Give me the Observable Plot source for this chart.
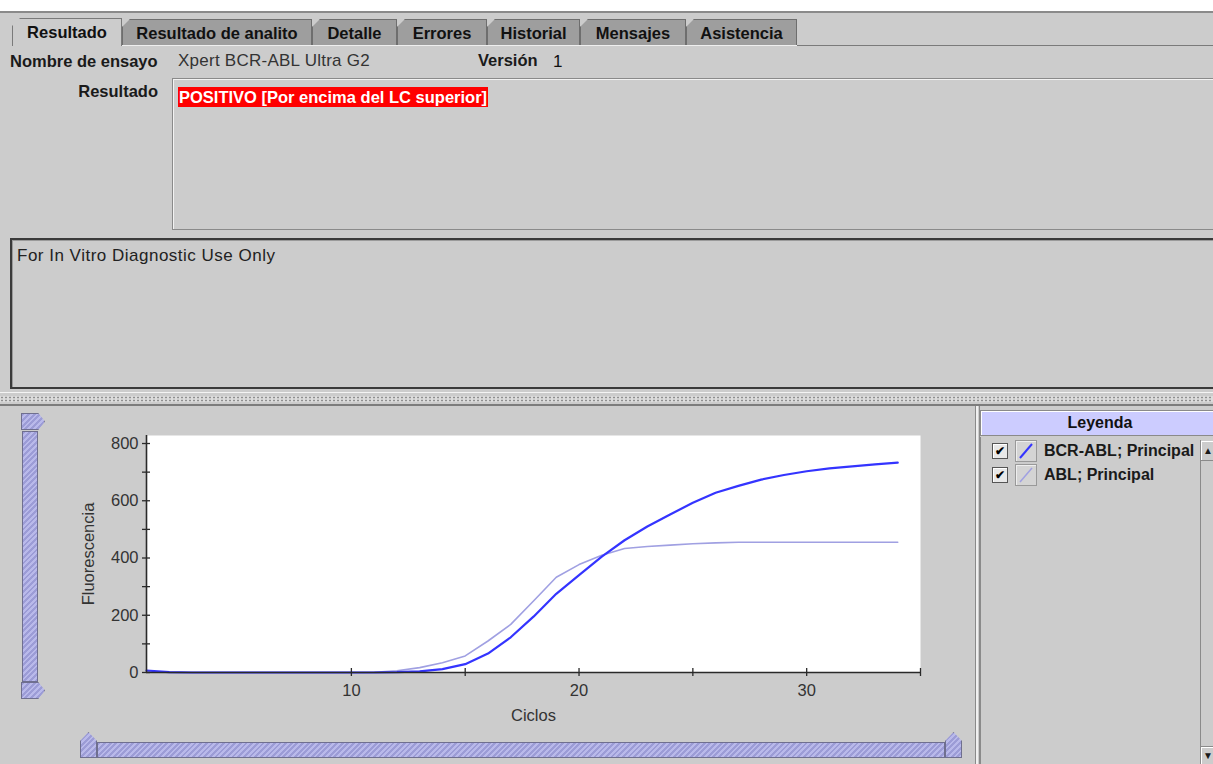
<!DOCTYPE html>
<html>
<head>
<meta charset="utf-8">
<script src="https://cdn.jsdelivr.net/npm/d3@7"></script>
<script src="https://cdn.jsdelivr.net/npm/@observablehq/plot@0.6"></script>
<style>
  html, body { margin: 0; padding: 0; }
  body { width: 1213px; height: 764px; overflow: hidden; position: relative; background: #cccccc;
         font-family: "Liberation Sans", Arial, sans-serif; color: #1a1a1a; }
  .abs { position: absolute; }
  .tab { position: absolute; top: 19px; height: 26px; box-sizing: border-box; background: #9e9e9e;
         border: 1px solid #6e6e6e; border-bottom: none; font-weight: bold; font-size: 16.5px; line-height: 26px;
         text-align: center; color: #111; clip-path: polygon(8px 0, 100% 0, 100% 100%, 0 100%, 0 8px); }
  .tab.sel { background: #cccccc; top: 18px; height: 28px; border-color: #7a7a7a; }
  .lbl { position: absolute; font-size: 16.5px; font-weight: bold; line-height: 18px; white-space: nowrap; }
  .txt { position: absolute; font-size: 17px; letter-spacing: 0.25px; line-height: 18px; white-space: nowrap; color: #333; }
  .hatch { background: repeating-linear-gradient(135deg, #9c9cd6 0 2px, #b9b9ea 2px 4px); border: 1px solid #6f6f8f; box-sizing: border-box; }
  .chk { position: absolute; width: 16px; height: 16px; box-sizing: border-box; border: 1px solid #555; background: #e8e8e8;
         box-shadow: inset 1px 1px 0 #fff; font-size: 12px; line-height: 14px; text-align: center; font-weight: bold; color: #000; }
  .ico { position: absolute; width: 22px; height: 22px; box-sizing: border-box; border: 1px solid #999; background: #d4d4d4; box-shadow: inset 1px 1px 0 #eee; }
  #chart svg { max-width: none; display: block; }
</style>
</head>
<body>
<!-- top strip -->
<div class="abs" style="left:0;top:0;width:1213px;height:11px;background:#fff;"></div>
<div class="abs" style="left:0;top:11px;width:1213px;height:2px;background:#8a8a8a;"></div>

<!-- tabs -->
<div class="tab sel" style="left:12px;width:110px;">Resultado</div>
<div class="tab" style="left:122px;width:190px;">Resultado de analito</div>
<div class="tab" style="left:312px;width:85px;">Detalle</div>
<div class="tab" style="left:397px;width:90px;">Errores</div>
<div class="tab" style="left:487px;width:93px;">Historial</div>
<div class="tab" style="left:580px;width:106px;">Mensajes</div>
<div class="tab" style="left:686px;width:111px;">Asistencia</div>
<div class="abs" style="left:797px;top:45px;width:416px;height:1px;background:#7a7a7a;"></div>
<div class="abs" style="left:122px;top:45px;width:675px;height:1px;background:#eeeeee;"></div>

<!-- header fields -->
<div class="lbl" style="left:10px;top:52px;">Nombre de ensayo</div>
<div class="txt" style="left:178px;top:52px;">Xpert BCR-ABL Ultra G2</div>
<div class="lbl" style="left:478px;top:51px;">Versión</div>
<div class="txt" style="left:553px;top:53px;color:#111;">1</div>
<div class="lbl" style="left:0px;width:158px;text-align:right;top:82px;">Resultado</div>

<div class="abs" style="left:172px;top:78px;width:1060px;height:152px;box-sizing:border-box;border:1px solid #8a8a8a;border-right:none;box-shadow:inset 1px 1px 0 #f2f2f2;"></div>
<div class="abs" style="left:178px;top:87px;height:20px;padding:0 1px;background:#ff0000;color:#fff;font-weight:bold;font-size:16.5px;line-height:20px;white-space:nowrap;">POSITIVO [Por encima del LC superior]</div>

<!-- note box -->
<div class="abs" style="left:10px;top:238px;width:1210px;height:151px;box-sizing:border-box;border:2px solid #3a3a3a;border-right:none;box-shadow:inset 1px 1px 0 #9a9a9a;"></div>
<div class="txt" style="left:17px;top:247px;color:#222;letter-spacing:0.5px;">For In Vitro Diagnostic Use Only</div>

<!-- splitter -->
<div class="abs" style="left:0;top:392px;width:1213px;height:1px;background:#f4f4f4;"></div>
<div class="abs" style="left:0;top:396px;width:1213px;height:6px;background:radial-gradient(circle, #8f8f8f 0.8px, transparent 1.2px) 0 0/4px 3px #dcdcdc;"></div>
<div class="abs" style="left:0;top:404px;width:1213px;height:2px;background:#7c7c7c;"></div>

<!-- chart container -->
<div id="chart" class="abs" style="left:0;top:405px;width:975px;height:359px;"></div>

<!-- chart / legend divider -->
<div class="abs" style="left:975px;top:406px;width:1px;height:358px;background:#8a8a8a;"></div>
<div class="abs" style="left:976px;top:406px;width:2px;height:358px;background:#f0f0f0;"></div>
<div class="abs" style="left:979px;top:406px;width:1px;height:358px;background:#8a8a8a;"></div>

<!-- vertical slider -->
<div class="abs hatch" style="left:21px;top:413px;width:24px;height:17px;clip-path:polygon(0 0,72% 0,100% 50%,72% 100%,0 100%);"></div>
<div class="abs hatch" style="left:22px;top:431px;width:16px;height:251px;"></div>
<div class="abs hatch" style="left:21px;top:682px;width:24px;height:17px;clip-path:polygon(0 0,72% 0,100% 50%,72% 100%,0 100%);"></div>

<!-- horizontal slider -->
<div class="abs hatch" style="left:80px;top:732px;width:17px;height:26px;clip-path:polygon(50% 0,100% 35%,100% 100%,0 100%,0 35%);"></div>
<div class="abs hatch" style="left:97px;top:742px;width:848px;height:16px;"></div>
<div class="abs hatch" style="left:945px;top:732px;width:17px;height:26px;clip-path:polygon(50% 0,100% 35%,100% 100%,0 100%,0 35%);"></div>

<!-- legend panel -->
<div class="abs" style="left:980px;top:410px;width:240px;height:26px;box-sizing:border-box;background:#ccccff;border:1px solid #8a8a8a;border-right:none;box-shadow:inset 1px 1px 0 #fff;"></div>
<div id="legendTitle" class="lbl" style="left:980px;width:240px;top:414px;text-align:center;color:#111;font-size:16px;"></div>
<div class="abs" style="left:980px;top:437px;width:1px;height:327px;background:#8a8a8a;"></div>
<div id="legendItems"></div>
<!-- scrollbar -->
<div class="abs" style="left:1200px;top:440px;width:13px;height:324px;background:#cccccc;border-left:1px solid #8a8a8a;"></div>
<div class="abs" style="left:1201px;top:441px;width:14px;height:19px;background:#cccccc;border-bottom:1px solid #8a8a8a;box-shadow:inset 1px 1px 0 #fff;font-size:10px;line-height:19px;text-align:center;">▲</div>
<div class="abs" style="left:1201px;top:746px;width:14px;height:18px;background:#cccccc;border-top:1px solid #8a8a8a;box-shadow:inset 1px 1px 0 #fff;font-size:10px;line-height:18px;text-align:center;">▼</div>

<script>
// ---- data ----
const cycles = [1,2,3,4,5,6,7,8,9,10,11,12,13,14,15,16,17,18,19,20,21,22,23,24,25,26,27,28,29,30,31,32,33,34];
const bcrAbl = [7,1,0,0,0,0,0,0,0,0,0,1,4,12,29,66,123,195,275,340,405,462,510,552,593,628,652,674,690,703,713,720,727,733];
const abl    = [2,0,0,0,0,0,0,0,0,0,1,6,17,34,58,110,168,250,333,377,410,433,440,445,450,453,455,455,455,455,455,455,455,455];
const seriesNames = ["BCR-ABL; Principal", "ABL; Principal"];
const seriesColors = ["#3434ff", "#a0a0e2"];
const yMajorTicks = [0, 200, 400, 600, 800];
const yMinorTicks = [0, 100, 200, 300, 400, 500, 600, 700, 800];
const xMajorTicks = [10, 20, 30];
const xMinorTicks = [10, 15, 20, 25, 30, 35];
const xDomain = [1, 35];
const yDomain = [0, 828];
const xLabel = "Ciclos";
const yLabel = "Fluorescencia";
const legendTitle = "Leyenda";

const data = cycles.flatMap((c, i) => [
  {cycle: c, value: bcrAbl[i], series: seriesNames[0]},
  {cycle: c, value: abl[i], series: seriesNames[1]}
]);

const axisColor = "#2a2a2a";
const chart = Plot.plot({
  width: 975,
  height: 359,
  marginLeft: 146,
  marginRight: 55,
  marginTop: 30,
  marginBottom: 92,
  style: {background: "transparent", fontFamily: "'Liberation Sans', Arial, sans-serif", fontSize: "16.5px", color: "#333", overflow: "visible"},
  x: {domain: xDomain},
  y: {domain: yDomain},
  color: {domain: seriesNames, range: seriesColors},
  marks: [
    Plot.frame({fill: "white", stroke: null}),
    Plot.line(data, {filter: d => d.series === seriesNames[1], x: "cycle", y: "value", stroke: "series", strokeWidth: 1.6}),
    Plot.line(data, {filter: d => d.series === seriesNames[0], x: "cycle", y: "value", stroke: "series", strokeWidth: 2.2}),
    Plot.ruleX([xDomain[0]], {stroke: axisColor, strokeWidth: 1.6}),
    Plot.ruleY([0], {stroke: axisColor, strokeWidth: 1.6}),
    Plot.axisY(yMinorTicks, {tickSize: 8, dx: 4, tickFormat: () => "", label: null, stroke: axisColor, strokeWidth: 1.3}),
    Plot.axisY(yMajorTicks, {tickSize: 0, tickPadding: 8, label: yLabel, labelAnchor: "center", labelOffset: 64, labelArrow: "none", fill: "#333", fontSize: 16.5}),
    Plot.axisX(xMinorTicks, {tickSize: 8, dy: -4, tickFormat: () => "", label: null, stroke: axisColor, strokeWidth: 1.3}),
    Plot.axisX(xMajorTicks, {tickSize: 0, tickPadding: 12, label: xLabel, labelAnchor: "center", labelOffset: 48, labelArrow: "none", fill: "#333", fontSize: 16.5})
  ]
});
document.getElementById("chart").appendChild(chart);

// legend (HTML, colours from the same arrays)
document.getElementById("legendTitle").textContent = legendTitle;
const items = document.getElementById("legendItems");
seriesNames.forEach((name, i) => {
  const top = 443 + i * 24;
  items.insertAdjacentHTML("beforeend",
    `<div class="chk" style="left:992px;top:${top}px;">&#10004;</div>
     <div class="ico" style="left:1015px;top:${top - 3}px;">
       <svg width="20" height="20" style="position:absolute;left:0;top:0"><line x1="4" y1="17" x2="16" y2="3" stroke="${seriesColors[i]}" stroke-width="${i === 0 ? 2 : 1.5}"/></svg>
     </div>
     <div class="lbl" style="left:1044px;top:${top - 1}px;color:#1a1a1a;font-size:16px;">${name}</div>`);
});
</script>
</body>
</html>
